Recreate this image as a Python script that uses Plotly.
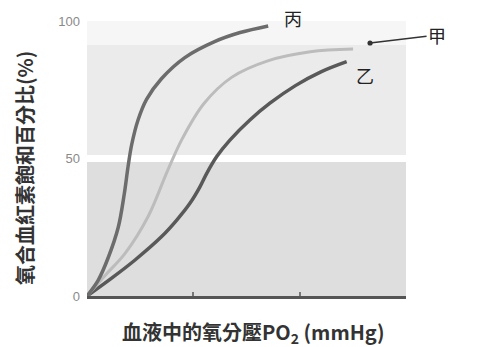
import plotly.graph_objects as go

# Data (x: PO2 in mmHg, y: saturation %)
bing_x = [0, 5.3, 10.0, 14.7, 17.5, 19.3, 21.0, 24.0, 28.0, 35.0, 46.0, 60.0, 72.0, 85.2]
bing_y = [0, 5.8, 14.0, 25.0, 37.0, 47.0, 55.0, 64.0, 71.5, 79.0, 86.7, 92.5, 95.8, 98.2]

jia_x = [0, 8.5, 17.9, 28.8, 38.0, 45.0, 55.0, 68.0, 85.0, 105.0, 125.1]
jia_y = [0, 7.5, 15.5, 29.0, 45.8, 57.5, 70.0, 79.5, 85.5, 88.8, 89.8]

yi_x = [0, 11.6, 22.6, 35.1, 42.2, 48.4, 53.1, 56.3, 61.0, 67.2, 76.6, 86.0, 98.0, 110.0, 122.1]
yi_y = [0, 6.5, 13.1, 21.6, 27.6, 33.7, 39.7, 44.6, 50.7, 56.7, 64.0, 70.1, 76.5, 81.5, 85.2]

y_tick_vals = [0, 50, 100]
y_tick_text = ["0", "50", "100"]
x_tick_vals = [50, 100]

CJK = "Noto Sans CJK TC"

fig = go.Figure()

# background bands
fig.add_shape(type="rect", xref="x", yref="y", x0=0, x1=150, y0=91.3, y1=100.5,
              fillcolor="#f6f6f6", line_width=0, layer="below")
fig.add_shape(type="rect", xref="x", yref="y", x0=0, x1=150, y0=51.3, y1=91.3,
              fillcolor="#ebebeb", line_width=0, layer="below")
fig.add_shape(type="rect", xref="x", yref="y", x0=0, x1=150, y0=0, y1=48.7,
              fillcolor="#dedede", line_width=0, layer="below")

fig.add_trace(go.Scatter(x=yi_x, y=yi_y, mode="lines",
                         line=dict(color="#595959", width=3.5, shape="spline", smoothing=1.0),
                         cliponaxis=False, hoverinfo="skip"))
fig.add_trace(go.Scatter(x=jia_x, y=jia_y, mode="lines",
                         line=dict(color="#bcbcbc", width=3, shape="spline", smoothing=1.0),
                         cliponaxis=False, hoverinfo="skip"))
fig.add_trace(go.Scatter(x=bing_x, y=bing_y, mode="lines",
                         line=dict(color="#6c6c6c", width=3.5, shape="spline", smoothing=1.0),
                         cliponaxis=False, hoverinfo="skip"))

fig.add_annotation(x=130.7, y=80.4, xref="x", yref="y", text="乙", showarrow=False,
                   xanchor="center", yanchor="middle",
                   font=dict(family=CJK, size=18, color="#222"))
fig.add_annotation(x=133.1, y=92.0, xref="x", yref="y", text="甲", showarrow=True,
                   ax=67, ay=-8, arrowhead=6, arrowsize=1, arrowwidth=1.3, arrowcolor="#333",
                   standoff=0, font=dict(family=CJK, size=18, color="#222"))

# pixel-positioned texts (converted to paper coords below)
pix_texts = [
    dict(x=293, y=18, text="丙", angle=0, size=18, color="#222"),
    dict(x=24, y=168, text="<b>氧合血紅素飽和百分比(%)</b>", angle=-90, size=20, color="#333"),
    dict(x=253, y=332, text="<b>血液中的氧分壓PO<sub>2</sub> (mmHg)</b>", angle=0, size=20, color="#333"),
]
L, R, T, B = 87, 82, 21, 51
W, H = 488, 347
for t in pix_texts:
    fig.add_annotation(x=(t["x"] - L) / (W - L - R), y=(H - t["y"] - B) / (H - T - B),
                       xref="paper", yref="paper", text=t["text"], showarrow=False,
                       xanchor="center", yanchor="middle",
                       textangle=t["angle"], font=dict(family=CJK, size=t["size"], color=t["color"]))

fig.update_layout(
    width=W, height=H,
    margin=dict(l=L, r=R, t=T, b=B),
    paper_bgcolor="white", plot_bgcolor="white",
    showlegend=False,
    xaxis=dict(range=[0, 150], showgrid=False, zeroline=False, showline=True,
               linecolor="#555555", linewidth=3, tickvals=x_tick_vals, showticklabels=False,
               ticks="inside", ticklen=4, tickcolor="#777", tickwidth=1.5),
    yaxis=dict(range=[0, 100], showgrid=False, zeroline=False, showline=False,
               tickvals=y_tick_vals, ticktext=y_tick_text, ticks="",
               ticklabelstandoff=6,
               tickfont=dict(family="Liberation Sans", size=13, color="#8a8a8a")),
)

fig.write_html("out.html")
